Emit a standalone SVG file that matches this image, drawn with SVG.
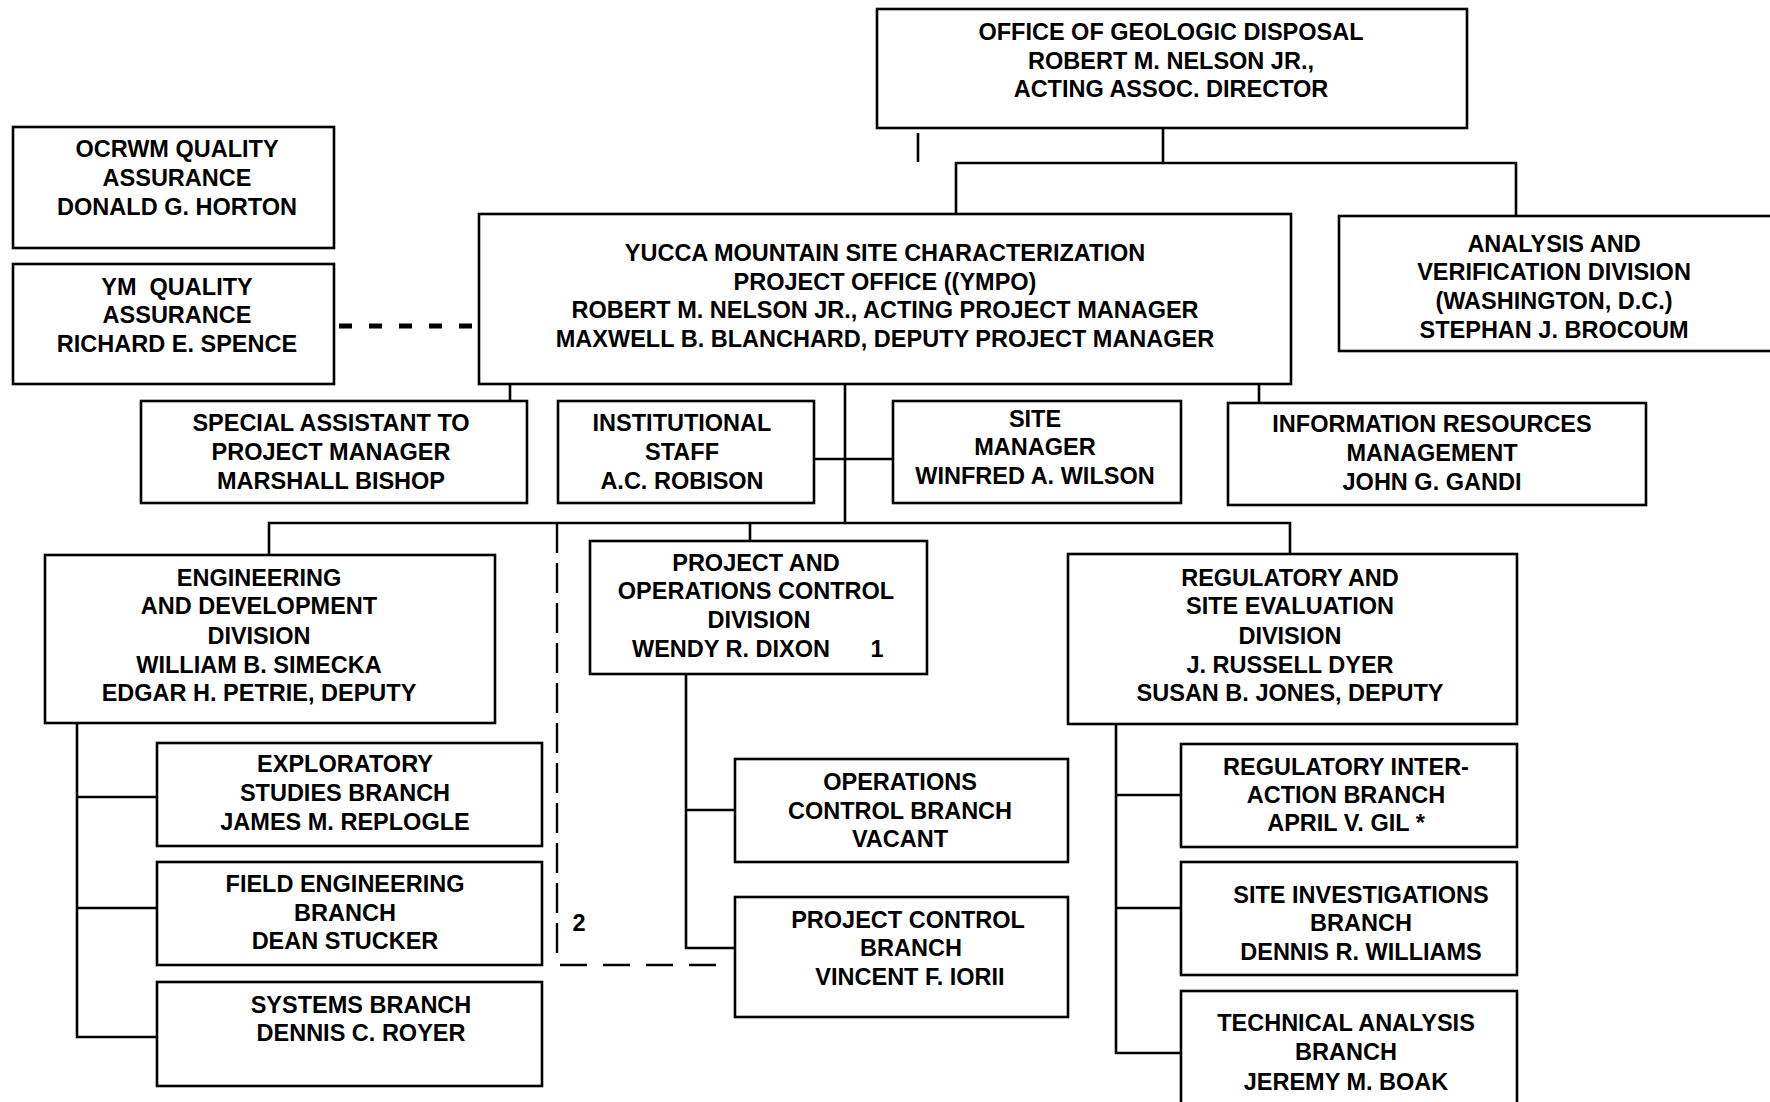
<svg xmlns="http://www.w3.org/2000/svg" width="1770" height="1102" viewBox="0 0 1770 1102">
<style>
.box{fill:#fff;stroke:#000;stroke-width:2.6}
.ln{fill:none;stroke:#000;stroke-width:2.6}
.dash1{fill:none;stroke:#000;stroke-width:5;stroke-dasharray:13 17}
.dash2{fill:none;stroke:#000;stroke-width:2.4;stroke-dasharray:30 10}
.dash3{fill:none;stroke:#000;stroke-width:2.4;stroke-dasharray:27 16}
text{font-family:"Liberation Sans",Arial,sans-serif;font-weight:bold;font-size:23.5px;fill:#000;text-anchor:middle;white-space:pre}
</style>
<rect width="1770" height="1102" fill="#fff"/>
<g id="connectors">
<line class="ln" x1="918" y1="133" x2="918" y2="162" stroke-width="2"/>
<polyline class="ln" points="1163,128 1163,163"/>
<polyline class="ln" points="956,214 956,163 1516,163 1516,216"/>
<line class="dash1" x1="339" y1="326" x2="476" y2="326"/>
<line class="ln" x1="510" y1="384" x2="510" y2="401"/>
<line class="ln" x1="845" y1="384" x2="845" y2="523"/>
<line class="ln" x1="1259" y1="384" x2="1259" y2="403"/>
<line class="ln" x1="814" y1="459" x2="893" y2="459"/>
<polyline class="ln" points="269,555 269,523 1290,523 1290,554"/>
<line class="ln" x1="750" y1="523" x2="750" y2="541"/>
<line class="dash2" x1="557" y1="523" x2="557" y2="962"/>
<line class="dash3" x1="560" y1="965" x2="716" y2="965"/>
<polyline class="ln" points="686,674 686,948 735,948"/>
<line class="ln" x1="686" y1="810" x2="735" y2="810"/>
<polyline class="ln" points="77,723 77,1037 157,1037"/>
<line class="ln" x1="77" y1="797" x2="157" y2="797"/>
<line class="ln" x1="77" y1="908" x2="157" y2="908"/>
<polyline class="ln" points="1116,724 1116,1053 1181,1053"/>
<line class="ln" x1="1116" y1="795" x2="1181" y2="795"/>
<line class="ln" x1="1116" y1="908" x2="1181" y2="908"/>
<text x="579" y="931">2</text>
</g>
<g id="office-geologic-disposal">
<rect class="box" x="877" y="9" width="590" height="119"/>
<text x="1171" y="40">OFFICE OF GEOLOGIC DISPOSAL</text>
<text x="1171" y="69">ROBERT M. NELSON JR.,</text>
<text x="1171" y="97">ACTING ASSOC. DIRECTOR</text>
</g>
<g id="ocrwm-qa">
<rect class="box" x="13" y="127" width="321" height="121"/>
<text x="177" y="157">OCRWM QUALITY</text>
<text x="177" y="186">ASSURANCE</text>
<text x="177" y="215">DONALD G. HORTON</text>
</g>
<g id="ym-qa">
<rect class="box" x="13" y="264" width="321" height="120"/>
<text x="177" y="295">YM  QUALITY</text>
<text x="177" y="323">ASSURANCE</text>
<text x="177" y="352">RICHARD E. SPENCE</text>
</g>
<g id="ympo">
<rect class="box" x="479" y="214" width="812" height="170"/>
<text x="885" y="261">YUCCA MOUNTAIN SITE CHARACTERIZATION</text>
<text x="885" y="290">PROJECT OFFICE ((YMPO)</text>
<text x="885" y="318">ROBERT M. NELSON JR., ACTING PROJECT MANAGER</text>
<text x="885" y="347">MAXWELL B. BLANCHARD, DEPUTY PROJECT MANAGER</text>
</g>
<g id="analysis-verification">
<rect class="box" x="1339" y="216" width="440" height="135"/>
<text x="1554" y="252">ANALYSIS AND</text>
<text x="1554" y="280">VERIFICATION DIVISION</text>
<text x="1554" y="309">(WASHINGTON, D.C.)</text>
<text x="1554" y="338">STEPHAN J. BROCOUM</text>
</g>
<g id="special-assistant">
<rect class="box" x="141" y="401" width="386" height="102"/>
<text x="331" y="431">SPECIAL ASSISTANT TO</text>
<text x="331" y="460">PROJECT MANAGER</text>
<text x="331" y="489">MARSHALL BISHOP</text>
</g>
<g id="institutional-staff">
<rect class="box" x="558" y="401" width="256" height="102"/>
<text x="682" y="431">INSTITUTIONAL</text>
<text x="682" y="460">STAFF</text>
<text x="682" y="489">A.C. ROBISON</text>
</g>
<g id="site-manager">
<rect class="box" x="893" y="401" width="288" height="102"/>
<text x="1035" y="427">SITE</text>
<text x="1035" y="455">MANAGER</text>
<text x="1035" y="484">WINFRED A. WILSON</text>
</g>
<g id="information-resources">
<rect class="box" x="1228" y="403" width="418" height="102"/>
<text x="1432" y="432">INFORMATION RESOURCES</text>
<text x="1432" y="461">MANAGEMENT</text>
<text x="1432" y="490">JOHN G. GANDI</text>
</g>
<g id="engineering-development">
<rect class="box" x="45" y="555" width="450" height="168"/>
<text x="259" y="586">ENGINEERING</text>
<text x="259" y="614">AND DEVELOPMENT</text>
<text x="259" y="644">DIVISION</text>
<text x="259" y="673">WILLIAM B. SIMECKA</text>
<text x="259" y="701">EDGAR H. PETRIE, DEPUTY</text>
</g>
<g id="project-operations-control">
<rect class="box" x="590" y="541" width="337" height="133"/>
<text x="756" y="571">PROJECT AND</text>
<text x="756" y="599">OPERATIONS CONTROL</text>
<text x="759" y="628">DIVISION</text>
<text x="731" y="657">WENDY R. DIXON</text>
<text x="877" y="657">1</text>
</g>
<g id="regulatory-site-evaluation">
<rect class="box" x="1068" y="554" width="449" height="170"/>
<text x="1290" y="586">REGULATORY AND</text>
<text x="1290" y="614">SITE EVALUATION</text>
<text x="1290" y="644">DIVISION</text>
<text x="1290" y="673">J. RUSSELL DYER</text>
<text x="1290" y="701">SUSAN B. JONES, DEPUTY</text>
</g>
<g id="exploratory-studies">
<rect class="box" x="157" y="743" width="385" height="103"/>
<text x="345" y="772">EXPLORATORY</text>
<text x="345" y="801">STUDIES BRANCH</text>
<text x="345" y="830">JAMES M. REPLOGLE</text>
</g>
<g id="field-engineering">
<rect class="box" x="157" y="862" width="385" height="103"/>
<text x="345" y="892">FIELD ENGINEERING</text>
<text x="345" y="921">BRANCH</text>
<text x="345" y="949">DEAN STUCKER</text>
</g>
<g id="systems-branch">
<rect class="box" x="157" y="982" width="385" height="104"/>
<text x="361" y="1013">SYSTEMS BRANCH</text>
<text x="361" y="1041">DENNIS C. ROYER</text>
</g>
<g id="operations-control-branch">
<rect class="box" x="735" y="759" width="333" height="103"/>
<text x="900" y="790">OPERATIONS</text>
<text x="900" y="819">CONTROL BRANCH</text>
<text x="900" y="847">VACANT</text>
</g>
<g id="project-control-branch">
<rect class="box" x="735" y="897" width="333" height="120"/>
<text x="908" y="928">PROJECT CONTROL</text>
<text x="911" y="956">BRANCH</text>
<text x="910" y="985">VINCENT F. IORII</text>
</g>
<g id="regulatory-interaction">
<rect class="box" x="1181" y="744" width="336" height="103"/>
<text x="1346" y="775">REGULATORY INTER-</text>
<text x="1346" y="803">ACTION BRANCH</text>
<text x="1346" y="831">APRIL V. GIL *</text>
</g>
<g id="site-investigations">
<rect class="box" x="1181" y="862" width="336" height="113"/>
<text x="1361" y="903">SITE INVESTIGATIONS</text>
<text x="1361" y="931">BRANCH</text>
<text x="1361" y="960">DENNIS R. WILLIAMS</text>
</g>
<g id="technical-analysis">
<rect class="box" x="1181" y="991" width="336" height="125"/>
<text x="1346" y="1031">TECHNICAL ANALYSIS</text>
<text x="1346" y="1060">BRANCH</text>
<text x="1346" y="1090">JEREMY M. BOAK</text>
</g>
</svg>
